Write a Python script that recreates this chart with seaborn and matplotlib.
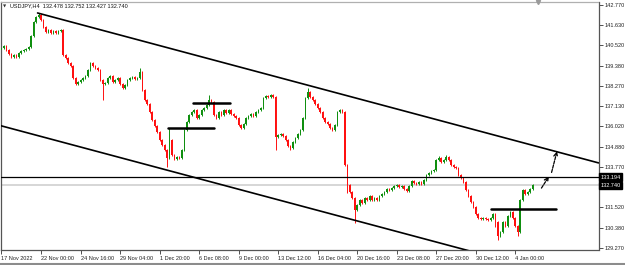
import matplotlib
matplotlib.use("Agg")
import numpy as np
import pandas as pd
import seaborn as sns
import matplotlib.pyplot as plt
from matplotlib.lines import Line2D

# ---------------- data (USDJPY, H4) ----------------
closes = [
    140.36, 140.47, 140.25, 140.03, 139.86, 139.97, 139.86, 140.09, 140.20, 140.25, 140.31, 140.42,
    141.03, 141.81, 142.09, 142.20, 141.92, 141.53, 141.25, 141.36, 141.20, 141.31, 141.20, 141.31, 141.36,
    139.97, 139.81, 139.53, 139.36, 138.70, 138.36, 138.48, 138.59, 138.70, 138.81, 139.14, 139.53, 139.36, 139.25, 139.14,
    138.59, 138.36, 138.42, 138.70, 138.81, 138.48, 138.59, 138.70, 138.36, 138.14, 138.31, 138.59, 138.70, 138.75, 138.64, 138.70, 139.03,
    138.03, 137.48, 137.25, 136.81, 136.37, 136.03, 135.70, 135.25, 134.98, 134.70, 134.25,
    135.25, 134.42, 134.20, 134.31, 134.25, 134.70, 135.81, 136.26, 136.65, 136.81, 136.92, 136.48, 136.65, 136.92, 137.03, 137.20, 137.48, 137.37,
    136.65, 136.48, 136.81, 136.65, 136.92, 136.76, 136.92, 136.70, 136.59, 136.48, 136.09, 135.92, 136.14, 136.48, 136.59,
    136.70, 136.59, 136.81, 136.92, 137.03, 137.59, 137.70, 137.64, 137.76, 137.64,
    135.42, 135.53, 135.59, 135.48, 135.25, 134.92, 134.81, 135.14, 135.36, 135.59, 135.81, 136.48, 137.59, 137.92, 137.64,
    137.48, 137.25, 137.03, 136.81, 136.48, 136.26, 136.14, 135.92, 135.81, 136.09, 136.81, 136.92, 136.81,
    133.86, 132.75, 132.37, 132.03, 131.37, 131.64, 131.92, 131.75, 132.03, 131.92, 132.14, 131.92, 132.03, 131.92, 132.14,
    132.25, 132.37, 132.53, 132.48, 132.59, 132.70, 132.75, 132.64, 132.70, 132.53, 132.42, 132.70, 132.98, 132.87, 132.81,
    132.92, 132.81, 133.03, 133.31, 133.42, 133.53, 133.59,
    134.14, 134.25, 134.03, 134.14, 134.31, 134.14, 133.86, 133.75, 133.70, 133.31, 133.14, 132.92, 132.48, 132.14, 131.81,
    131.53, 131.14, 130.92, 130.87, 130.92, 130.87, 130.81, 130.92, 131.14, 130.70, 129.92, 130.14, 130.70, 130.48, 131.03,
    131.25, 130.92, 130.48, 130.14, 131.92, 132.48, 132.25, 132.37, 132.53, 132.74,
]
first_open = 140.25
# notable wick extremes (bar index -> price)
high_marks = {15: 142.31, 56: 139.25, 68: 135.90, 84: 137.76, 124: 138.14, 137: 137.00,
              177: 134.36, 180: 134.40}
low_marks = {41: 137.48, 67: 133.75, 111: 134.70, 117: 134.70, 140: 132.30,
             143: 130.64, 200: 130.40, 201: 129.70, 209: 129.92}
wick = 0.06

x_tick_labels = ["17 Nov 2022", "22 Nov 00:00", "24 Nov 16:00", "29 Nov 04:00", "1 Dec 20:00",
                 "6 Dec 08:00", "9 Dec 00:00", "13 Dec 12:00", "16 Dec 04:00", "20 Dec 16:00",
                 "23 Dec 08:00", "27 Dec 20:00", "30 Dec 12:00", "4 Jan 00:00"]
bars_per_label = 16
y_ticks = [142.770, 141.630, 140.520, 139.380, 138.270, 137.130, 136.020,
           134.880, 133.770, 131.520, 130.380, 129.270]

level_price = 133.194
bid_price = 132.740
header = "USDJPY,H4  132.478 132.752 132.427 132.740"

# channel lines: (bar, price) anchors
upper_channel = ([14.6, 241.7], [142.31, 133.98])
lower_channel = ([-0.4, 190.0], [136.05, 129.07])
# short support / resistance segments: (bar_start, bar_end, price)
segments = [(67.6, 86.2, 135.90), (77.7, 92.7, 137.33), (198.0, 224.3, 131.40)]
# projection arrows: ((bar, price) start, (bar, price) end)
arrows = [((218.6, 132.58), (221.6, 133.22)), ((222.7, 133.45), (224.9, 134.62))]

# ---------------- build table ----------------
n = len(closes)
opens = [first_open] + closes[:-1]
df = pd.DataFrame({"bar": np.arange(n), "open": opens, "close": closes})
df["top"] = df[["open", "close"]].max(axis=1)
df["bot"] = df[["open", "close"]].min(axis=1)
df["high"] = [high_marks.get(i, t + wick) for i, t in zip(df.bar, df.top)]
df["low"] = [low_marks.get(i, b - wick) for i, b in zip(df.bar, df.bot)]
df["dir"] = np.where(df.close >= df.open, "up", "down")
palette = {"up": "#0f8f0f", "down": "#ff1010"}

# ---------------- figure ----------------
sns.set_theme(style="white")
plt.rcParams["font.family"] = ["Liberation Sans", "DejaVu Sans"]
FS = 4.0

W, H = 625, 265
fig = plt.figure(figsize=(W / 100, H / 100), dpi=100)
ax = fig.add_axes([0.5 / W, 15 / H, 598 / W, 248 / H])

cols = df["dir"].map(palette)
ax.vlines(df.bar, df.low, df.high, colors=cols, lw=0.7, zorder=2)
ax.bar(df.bar, np.maximum(df.top - df.bot, 0.025), bottom=df.bot, width=0.62,
       color=cols, linewidth=0, zorder=3)

# channel lines
ax.plot(*upper_channel, color="black", lw=1.2, zorder=4)
ax.plot(*lower_channel, color="black", lw=1.2, zorder=4)
# levels
ax.axhline(bid_price, color="#cfcfcf", lw=1.2, zorder=1)
ax.axhline(level_price, color="black", lw=0.9, zorder=4)
for x0, x1, p in segments:
    ax.plot([x0, x1], [p, p], color="black", lw=1.8, zorder=5)
for (x0, y0), (x1, y1) in arrows:
    ax.annotate("", xy=(x1, y1), xytext=(x0, y0),
                arrowprops=dict(arrowstyle="->", color="black", lw=0.9,
                                linestyle=(0, (2.5, 1)), mutation_scale=7,
                                shrinkA=0, shrinkB=0), zorder=6)

ax.set_xlim(-0.4, 241.7)
ax.set_ylim(129.14, 142.92)

# axes styling
for s in ax.spines.values():
    s.set_color("#555555")
    s.set_linewidth(0.9)
ax.spines["top"].set_color("#b0b0b0")

ax.yaxis.tick_right()
ax.set_yticks(y_ticks)
ax.set_yticklabels([f"{v:.3f}" for v in y_ticks])
ax.tick_params(axis="y", right=True, direction="out", length=3, width=0.6,
               color="#333333", labelsize=FS, pad=1.5, labelcolor="#222222")
ax.set_xticks(np.arange(len(x_tick_labels)) * bars_per_label)
ax.set_xticklabels(x_tick_labels, ha="left")
ax.tick_params(axis="x", bottom=True, direction="out", length=3, width=0.6,
               color="#333333", labelsize=FS, pad=1.5, labelcolor="#222222")
ax.set_xlabel("")
ax.set_ylabel("")

# price boxes on the right scale
for p in (level_price, bid_price):
    ax.text(1.003, p, f"{p:.3f}", transform=ax.get_yaxis_transform(),
            ha="left", va="center", fontsize=FS, color="white",
            bbox=dict(boxstyle="square,pad=0.2", fc="black", ec="black"), zorder=7,
            clip_on=False)

# header
fig.text(3 / W, 1 - 6 / H, "\u25bc", fontsize=3.0, color="#333333", va="center", ha="left",
         family="DejaVu Sans")
fig.text(10 / W, 1 - 6 / H, header, fontsize=FS, color="#111111", va="center", ha="left")
# shift marker
ax.plot([217.4], [1.0], marker="v", color="#9a9a9a", markersize=3.0,
        transform=ax.get_xaxis_transform(), clip_on=False, zorder=8)
# bottom strip
fig.add_artist(Line2D([0, 1], [1.5 / H, 1.5 / H], color="#8c8c8c", lw=1.5))

fig.savefig("out.png", dpi=100, facecolor="white")
